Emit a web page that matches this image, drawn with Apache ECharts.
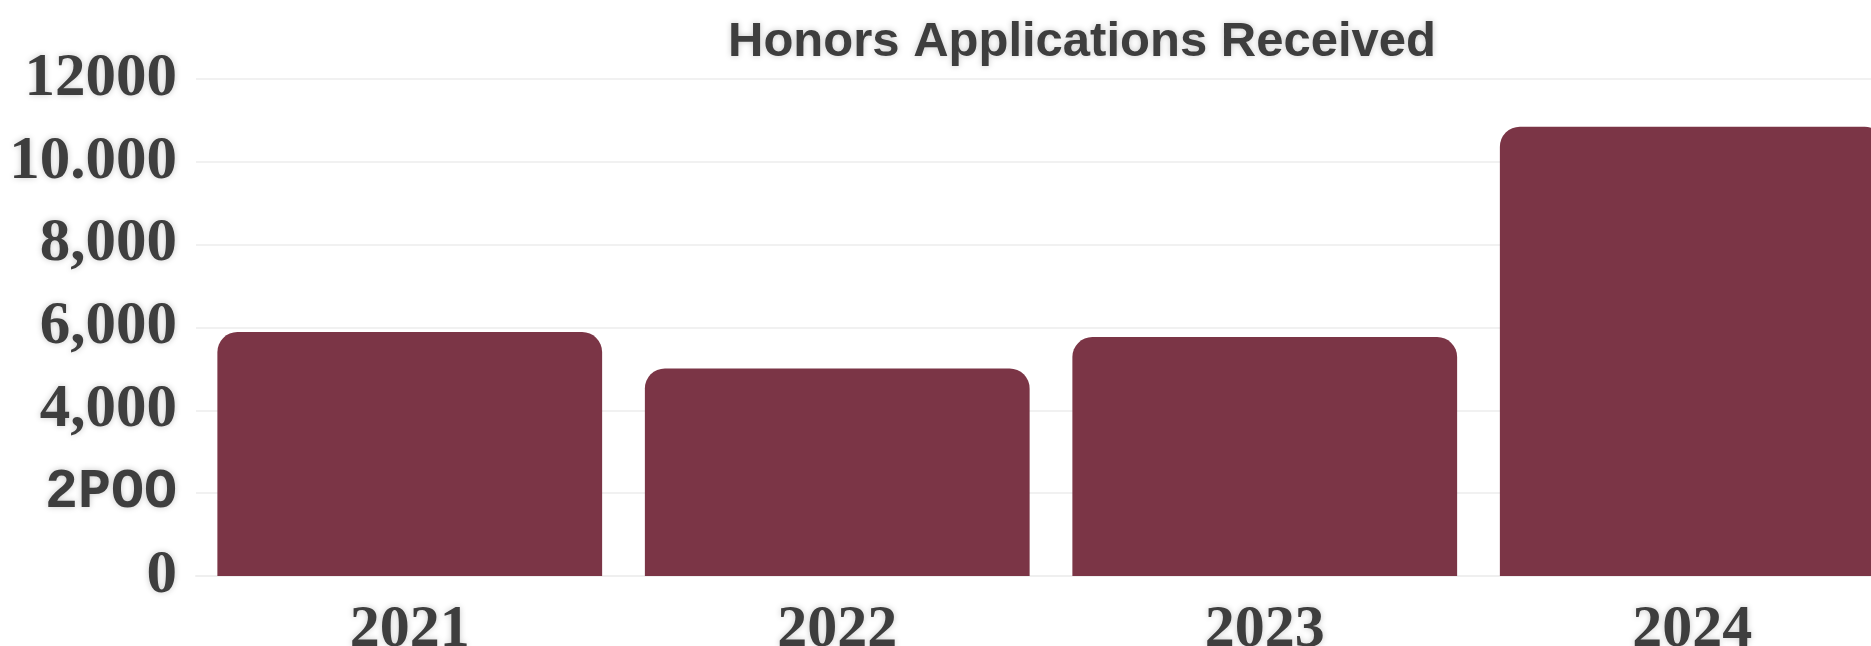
<!DOCTYPE html>
<html>
<head>
<meta charset="utf-8">
<title>Honors Applications Received</title>
<script src="https://cdn.jsdelivr.net/npm/echarts@6/dist/echarts.min.js"></script>
<style>
  html, body { margin: 0; padding: 0; background: #ffffff; }
  #chart { width: 1871px; height: 646px; }
</style>
</head>
<body>
<div id="chart"></div>
<script>
// Applications received per year
const years = ['2021', '2022', '2023', '2024'];
const applications = [5890, 5010, 5770, 10850];

// Value-axis tick labels, printed as they appear on the original slide
const tickValues = [0, 2000, 4000, 6000, 8000, 10000, 12000];
const tickLabels = ['0', '2POO', '4,000', '6,000', '8,000', '10.000', '12000'];

const TEXT = '#3e3e3e';
const BAR = '#7b3546';
const halo = {
  textShadowColor: 'rgba(0,0,0,0.22)',
  textShadowBlur: 6
};

const chart = echarts.init(document.getElementById('chart'), null, { renderer: 'canvas' });

chart.setOption({
  backgroundColor: '#ffffff',
  animation: false,
  title: {
    text: 'Honors Applications Received',
    left: 1077,
    textAlign: 'center',
    top: 13,
    textStyle: Object.assign({
      fontFamily: '"Liberation Sans", Arial, sans-serif',
      fontWeight: 'bold',
      fontSize: 49,
      color: TEXT
    }, halo)
  },
  // the plot runs past the right edge of the page, so the last bar is cut off
  grid: {
    left: 196,
    width: 1710,
    top: 79,
    bottom: 70,
    containLabel: false,
    outerBoundsMode: 'none'
  },
  xAxis: {
    type: 'category',
    data: years,
    axisLine: { show: true, lineStyle: { color: '#efefef', width: 2 } },
    axisTick: { show: false },
    axisLabel: Object.assign({
      margin: 24,
      fontFamily: '"Liberation Serif", "Times New Roman", serif',
      fontWeight: 'bold',
      fontSize: 60,
      color: TEXT
    }, halo)
  },
  yAxis: {
    type: 'value',
    min: 0,
    max: 12000,
    interval: 2000,
    axisLine: { show: false },
    axisTick: { show: false },
    splitLine: { lineStyle: { color: '#f1f1f1', width: 2 } },
    axisLabel: Object.assign({
      margin: 19,
      fontFamily: '"Liberation Serif", "Times New Roman", serif',
      fontWeight: 'bold',
      fontSize: 61,
      color: TEXT,
      formatter: function (v) {
        const i = tickValues.indexOf(v);
        const s = i >= 0 ? tickLabels[i] : String(v);
        return /P/.test(s) ? '{mono|' + s + '}' : s;
      },
      rich: {
        mono: Object.assign({
          fontFamily: '"Liberation Mono", "Courier New", monospace',
          fontWeight: 'bold',
          fontSize: 55,
          color: TEXT
        }, halo)
      }
    }, halo)
  },
  series: [{
    type: 'bar',
    data: applications,
    barCategoryGap: '10%',
    itemStyle: {
      color: BAR,
      borderRadius: [20, 20, 0, 0]
    }
  }]
});
</script>
</body>
</html>
